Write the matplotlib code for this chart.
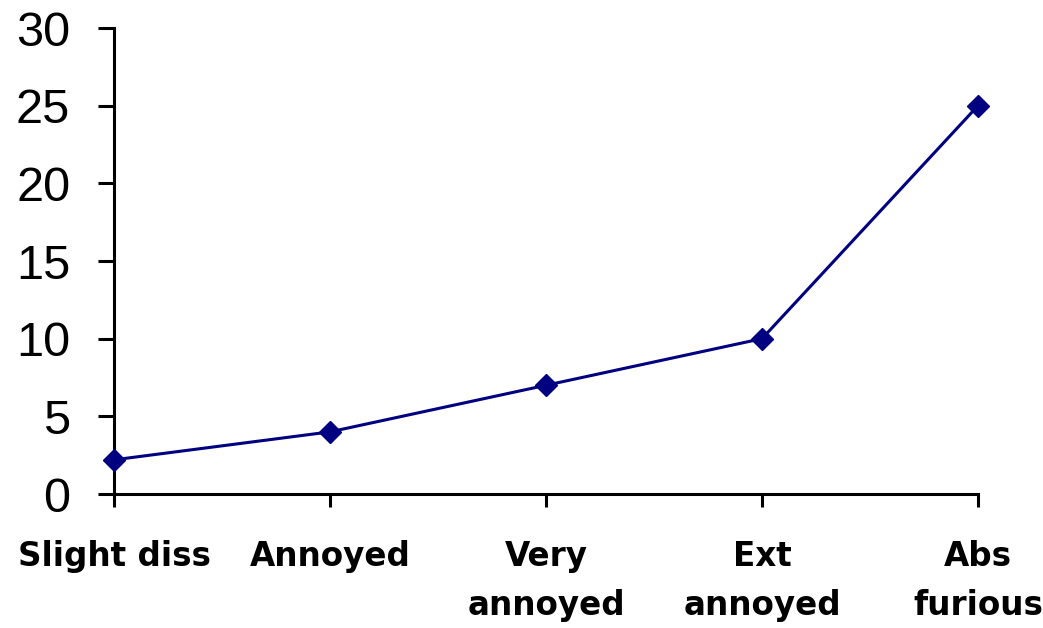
import matplotlib
matplotlib.use("Agg")
import matplotlib.pyplot as plt

# Dados do gráfico
categorias = ["Slight diss", "Annoyed", "Very\nannoyed", "Ext\nannoyed", "Abs\nfurious"]
valores = [2.2, 4, 7, 10, 25]
ticks_y = [0, 5, 10, 15, 20, 25, 30]

fig = plt.figure(figsize=(10.43, 6.28), dpi=100)
ax = fig.add_axes([114 / 1043, 1 - 494 / 628, (978 - 114) / 1043, (494 - 28) / 628])

posicoes = list(range(len(categorias)))
ax.plot(posicoes, valores, color="#000080", linewidth=2.2,
        marker="D", markersize=11, clip_on=False, zorder=3)

ax.set_xlim(0, len(categorias) - 1)
ax.set_ylim(0, 30)
ax.set_yticks(ticks_y)
ax.set_xticks(posicoes)
ax.set_xticklabels(categorias, fontfamily="DejaVu Sans", fontweight="heavy",
                   fontsize=23.5, linespacing=1.62)
ax.set_yticklabels([str(t) for t in ticks_y], fontfamily="Liberation Sans", fontsize=35)

for lado in ["top", "right"]:
    ax.spines[lado].set_visible(False)
for lado in ["left", "bottom"]:
    ax.spines[lado].set_linewidth(2.2)

ax.tick_params(axis="y", length=11.5, width=2.2, pad=20)
ax.tick_params(axis="x", length=9, width=2.2, pad=24)

fig.savefig("out.png", dpi=100)
